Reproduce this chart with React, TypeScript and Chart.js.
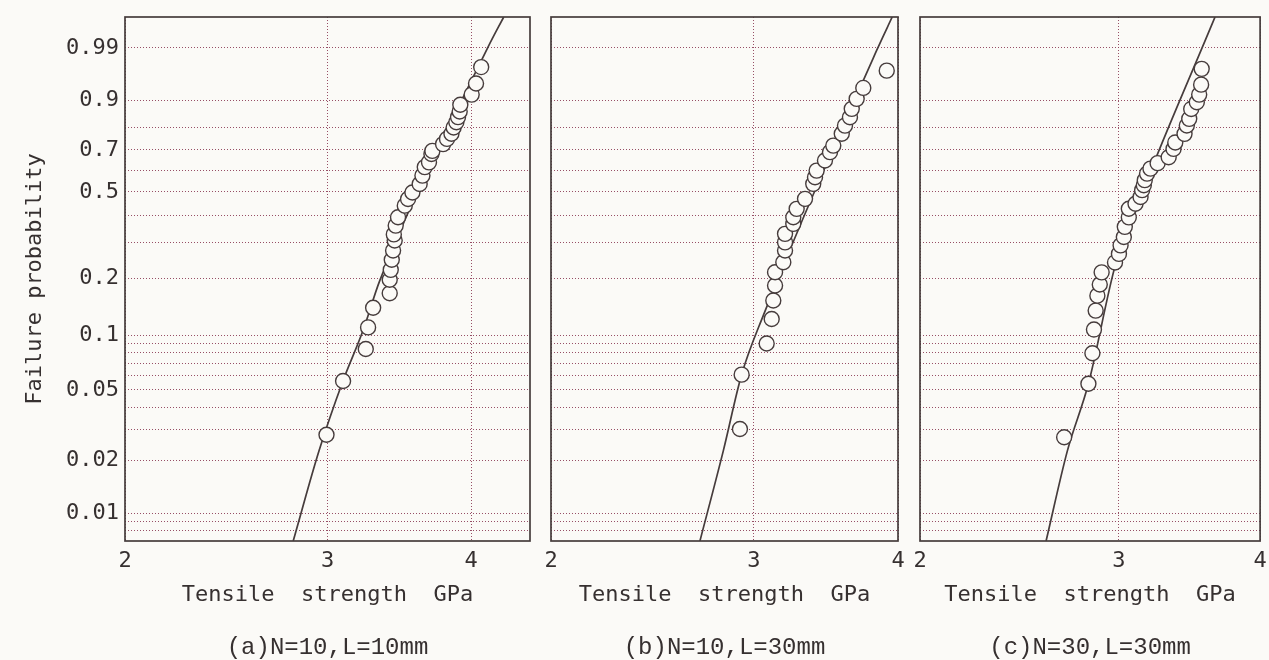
import React, { useEffect, useRef } from 'react';
import { Chart, registerables, LinearScale } from 'chart.js';

Chart.register(...registerables);

// ---------------- data ----------------
// Weibull probability paper: grid lines and labelled ticks (failure probability)
const GRID_F = [0.008, 0.009, 0.01, 0.02, 0.03, 0.04, 0.05, 0.06, 0.07, 0.08, 0.09, 0.1, 0.2, 0.3, 0.4, 0.5, 0.6, 0.7, 0.8, 0.9, 0.99];
const LABELED_F = [0.01, 0.02, 0.05, 0.1, 0.2, 0.5, 0.7, 0.9, 0.99];
const F_BOTTOM = 0.007;
const F_TOP = 0.999;

// Tensile strength axis (GPa, logarithmic)
const X_TICKS = [2, 3, 4];
const X_MIN = 2;
const X_MAX_A = 4.5;
const X_MAX_BC = 4;

const Y_TITLE = 'Failure probability';
const X_TITLE = 'Tensile  strength  GPa';
const CAPTION_A = '(a)N=10,L=10mm';
const CAPTION_B = '(b)N=10,L=30mm';
const CAPTION_C = '(c)N=30,L=30mm';

// (a) N=10, L=10mm
const A_STRENGTH = [2.994, 3.095, 3.239, 3.254, 3.287, 3.398, 3.398, 3.405, 3.412, 3.421, 3.432, 3.426, 3.439, 3.455, 3.502, 3.525, 3.556, 3.608, 3.628, 3.645, 3.676, 3.694, 3.701, 3.781, 3.811, 3.845, 3.862, 3.883, 3.896, 3.909, 3.914, 4.004, 4.039, 4.081];
const A_PROB = [0.028, 0.056, 0.084, 0.110, 0.140, 0.167, 0.196, 0.220, 0.247, 0.274, 0.306, 0.327, 0.359, 0.391, 0.439, 0.468, 0.497, 0.536, 0.576, 0.617, 0.640, 0.680, 0.695, 0.727, 0.751, 0.774, 0.801, 0.823, 0.843, 0.864, 0.887, 0.917, 0.944, 0.972];
const A_FIT_STRENGTH = [2.801, 2.950, 3.093, 3.221, 3.331, 4.137, 4.269];
const A_FIT_PROB = [0.007, 0.0228, 0.0556, 0.1058, 0.194, 0.9904, 0.999];

// (b) N=10, L=30mm
const B_STRENGTH = [2.917, 2.927, 3.077, 3.108, 3.118, 3.129, 3.129, 3.181, 3.192, 3.192, 3.192, 3.245, 3.245, 3.267, 3.322, 3.377, 3.389, 3.400, 3.457, 3.492, 3.515, 3.575, 3.598, 3.634, 3.647, 3.683, 3.732, 3.911];
const B_PROB = [0.0302, 0.0607, 0.090, 0.122, 0.153, 0.183, 0.214, 0.240, 0.274, 0.300, 0.329, 0.3655, 0.391, 0.4255, 0.4685, 0.537, 0.568, 0.600, 0.649, 0.689, 0.720, 0.774, 0.809, 0.8425, 0.873, 0.905, 0.934, 0.967];
const B_FIT_STRENGTH = [2.693, 2.822, 2.927, 3.056, 3.833, 3.954];
const B_FIT_PROB = [0.007, 0.0228, 0.0608, 0.1273, 0.9883, 0.999];

// (c) N=30, L=30mm
const C_STRENGTH = [2.683, 2.819, 2.842, 2.851, 2.861, 2.871, 2.885, 2.896, 2.976, 3.000, 3.010, 3.030, 3.036, 3.061, 3.061, 3.103, 3.135, 3.145, 3.156, 3.162, 3.177, 3.199, 3.246, 3.320, 3.353, 3.365, 3.429, 3.445, 3.462, 3.476, 3.516, 3.533, 3.547, 3.551];
const C_PROB = [0.0271, 0.0540, 0.0796, 0.1071, 0.1353, 0.1622, 0.1853, 0.2137, 0.2396, 0.2640, 0.2903, 0.3180, 0.3542, 0.3907, 0.4256, 0.4471, 0.4766, 0.5076, 0.5306, 0.5543, 0.5857, 0.6094, 0.6361, 0.6647, 0.7044, 0.7348, 0.7736, 0.8093, 0.8363, 0.8728, 0.8949, 0.9171, 0.9414, 0.9696];
const C_FIT_STRENGTH = [2.586, 2.701, 2.819, 2.980, 3.207, 3.576, 3.649];
const C_FIT_PROB = [0.007, 0.0228, 0.054, 0.2357, 0.61, 0.9937, 0.999];

// ---------------- styling ----------------
const BG = '#fbfaf7';
const INK = '#363030';
const FRAME = '#463c3c';
const GRID = 'rgba(140, 60, 85, 0.9)';
const MONO = "'DejaVu Sans Mono', monospace";

// ---------------- Weibull probability scale ----------------
const weib = (f: number) => Math.log(-Math.log(1 - f));
const unweib = (w: number) => 1 - Math.exp(-Math.exp(w));

class WeibullScale extends (LinearScale as any) {
  static id = 'weibull';
  static defaults = {};
  determineDataLimits() {
    const o: any = (this as any).options;
    (this as any).min = weib(typeof o.min === 'number' ? o.min : F_BOTTOM);
    (this as any).max = weib(typeof o.max === 'number' ? o.max : F_TOP);
  }
  buildTicks() {
    return GRID_F.map((v) => ({ value: v }));
  }
  getPixelForValue(value: any) {
    if (value === null || value === undefined || !isFinite(value) || value <= 0 || value >= 1) return NaN;
    return super.getPixelForValue(weib(value));
  }
  getValueForPixel(pixel: number) {
    return unweib(super.getValueForPixel(pixel));
  }
}
Chart.register(WeibullScale as any);

const framePlugin = {
  id: 'frame',
  afterDraw(chart: any) {
    const { ctx, chartArea: a } = chart;
    ctx.save();
    ctx.strokeStyle = FRAME;
    ctx.lineWidth = 1.7;
    ctx.strokeRect(a.left, a.top, a.right - a.left, a.bottom - a.top);
    ctx.restore();
  },
};

type PanelSpec = {
  strength: number[];
  prob: number[];
  fitStrength: number[];
  fitProb: number[];
  xMax: number;
  yWidth: number;
  padRight: number;
  showY: boolean;
  caption: string;
};

const zip = (xs: number[], ys: number[]) => xs.map((x, i) => ({ x, y: ys[i] }));

function makeConfig(p: PanelSpec): any {
  return {
    type: 'scatter',
    data: {
      datasets: [
        {
          label: 'measured',
          data: zip(p.strength, p.prob),
          pointStyle: 'circle',
          pointRadius: 7.5,
          pointBorderWidth: 1.4,
          pointBorderColor: FRAME,
          pointBackgroundColor: BG,
          showLine: false,
        },
        {
          type: 'line',
          label: 'fit',
          data: zip(p.fitStrength, p.fitProb),
          borderColor: FRAME,
          borderWidth: 1.7,
          pointRadius: 0,
          showLine: true,
          fill: false,
          cubicInterpolationMode: 'monotone',
        },
      ],
    },
    options: {
      animation: false,
      responsive: false,
      events: [],
      layout: { padding: { top: 17, right: p.padRight, bottom: 0, left: 0 } },
      plugins: {
        legend: { display: false },
        tooltip: { enabled: false },
        title: {
          display: true,
          position: 'bottom',
          fullSize: false,
          text: p.caption,
          color: INK,
          font: { family: "'Liberation Mono', monospace", size: 24, weight: 'normal', lineHeight: 1 },
          padding: 0,
        },
      },
      scales: {
        x: {
          type: 'logarithmic',
          min: X_MIN,
          max: p.xMax,
          afterBuildTicks: (s: any) => {
            s.ticks = X_TICKS.map((v) => ({ value: v }));
          },
          afterFit: (s: any) => {
            s.height = 95;
          },
          ticks: {
            autoSkip: false,
            maxRotation: 0,
            minRotation: 0,
            padding: 0,
            color: INK,
            font: { family: MONO, size: 22, lineHeight: 1.82 },
            callback: (v: any) => String(v),
          },
          grid: { color: GRID, lineWidth: 1, drawTicks: false },
          border: { display: false, dash: [1, 2] },
          title: {
            display: true,
            text: X_TITLE,
            color: INK,
            font: { family: MONO, size: 22 },
            padding: { top: 0, bottom: 28 },
          },
        },
        y: {
          type: 'weibull',
          min: F_BOTTOM,
          max: F_TOP,
          afterFit: (s: any) => {
            s.width = p.yWidth;
          },
          ticks: {
            display: p.showY,
            autoSkip: false,
            padding: 6,
            color: INK,
            font: { family: MONO, size: 22, lineHeight: 1 },
            callback: (v: any) => (LABELED_F.includes(v) ? String(v) : ''),
          },
          grid: { color: GRID, lineWidth: 1, drawTicks: false },
          border: { display: false, dash: [1, 2] },
          title: {
            display: p.showY,
            text: Y_TITLE,
            color: INK,
            font: { family: MONO, size: 22 },
            padding: { top: 22, bottom: 0 },
          },
        },
      },
    },
    plugins: [framePlugin],
  };
}

const PANELS: { spec: PanelSpec; left: number; width: number }[] = [
  {
    left: 0,
    width: 545,
    spec: { strength: A_STRENGTH, prob: A_PROB, fitStrength: A_FIT_STRENGTH, fitProb: A_FIT_PROB, xMax: X_MAX_A, yWidth: 125, padRight: 15, showY: true, caption: CAPTION_A },
  },
  {
    left: 540,
    width: 380,
    spec: { strength: B_STRENGTH, prob: B_PROB, fitStrength: B_FIT_STRENGTH, fitProb: B_FIT_PROB, xMax: X_MAX_BC, yWidth: 11, padRight: 22, showY: false, caption: CAPTION_B },
  },
  {
    left: 900,
    width: 369,
    spec: { strength: C_STRENGTH, prob: C_PROB, fitStrength: C_FIT_STRENGTH, fitProb: C_FIT_PROB, xMax: X_MAX_BC, yWidth: 20, padRight: 7, showY: false, caption: CAPTION_C },
  },
];

export default function App() {
  const refs = [useRef<HTMLCanvasElement>(null), useRef<HTMLCanvasElement>(null), useRef<HTMLCanvasElement>(null)];

  useEffect(() => {
    const charts: Chart[] = [];
    PANELS.forEach((panel, i) => {
      const c = refs[i].current;
      if (c) charts.push(new Chart(c, makeConfig(panel.spec)));
    });
    return () => charts.forEach((ch) => ch.destroy());
  }, []);

  return (
    <div style={{ position: 'fixed', left: 0, top: 0, width: 1269, height: 660, background: BG, overflow: 'hidden' }}>
      {PANELS.map((panel, i) => (
        <canvas
          key={i}
          ref={refs[i]}
          width={panel.width}
          height={660}
          style={{ position: 'absolute', left: panel.left, top: 0, width: panel.width, height: 660, display: 'block' }}
        />
      ))}
    </div>
  );
}
